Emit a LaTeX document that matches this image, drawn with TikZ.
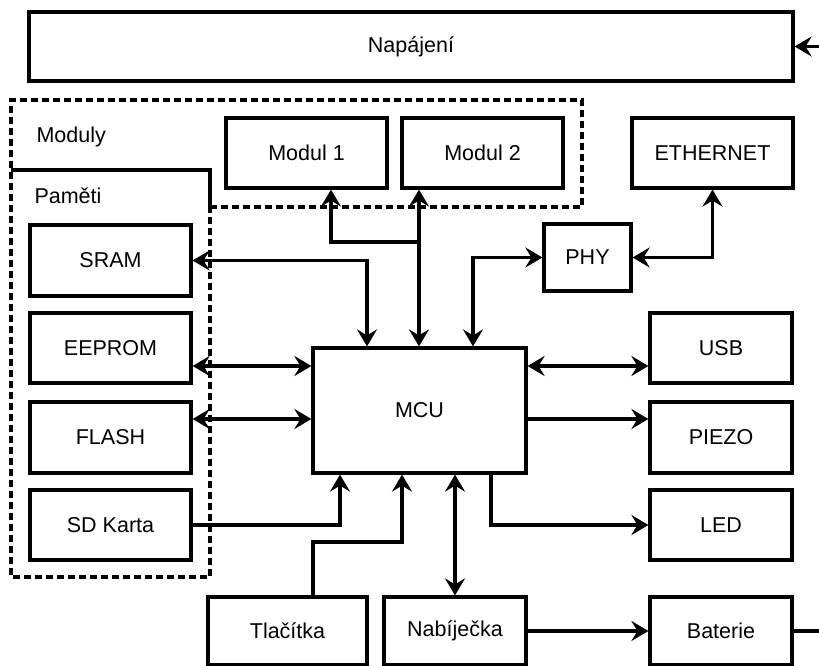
\documentclass[tikz,border=0pt]{standalone}
\usepackage{fontspec}
\setmainfont{Liberation Sans}
\usetikzlibrary{arrows.meta}
\begin{document}
\begin{tikzpicture}[x=1pt,y=-1pt,
  font=\fontsize{21.5}{25}\selectfont,
  box/.style={draw, line width=3.2pt, rectangle, inner sep=0pt, fill=white},
  conn/.style={line width=3.2pt},
  tip/.style={conn, -{Stealth[length=17pt,width=20pt,inset=6pt]}},
  both/.style={conn, {Stealth[length=17pt,width=20pt,inset=6pt]}-{Stealth[length=17pt,width=20pt,inset=6pt]}},
  grp/.style={line width=3.2pt, dash pattern=on 7pt off 4pt}
]
\useasboundingbox (0,0) rectangle (819,666);
\fill[white] (0,0) rectangle (819,666);

% groups
\draw[grp] (210,207) -- (582,207) -- (582,100) -- (11,100) -- (11,577) -- (210,577) -- cycle;
\draw[line width=3.2pt] (11,170) -- (210,170) -- (210,207);
\node[anchor=west] (lmod) at (33,137) {Moduly};
\node[anchor=west] (lmem) at (31,196) {Paměti};

% boxes
\node[box, minimum width=764pt, minimum height=69pt] (nap) at (411,46.5) {Napájení};
\node[box, minimum width=161pt, minimum height=70pt] (m1) at (306.5,153) {Modul 1};
\node[box, minimum width=161pt, minimum height=70pt] (m2) at (482.5,153) {Modul 2};
\node[box, minimum width=161pt, minimum height=70pt] (eth) at (712.5,153) {ETHERNET};
\node[box, minimum width=87pt, minimum height=67pt] (phy) at (587.5,257.5) {PHY};
\node[box, minimum width=161pt, minimum height=71pt] (sram) at (110.5,260.5) {SRAM};
\node[box, minimum width=161pt, minimum height=70pt] (eeprom) at (110.5,348) {EEPROM};
\node[box, minimum width=161pt, minimum height=71pt] (flash) at (110.5,437.5) {FLASH};
\node[box, minimum width=161pt, minimum height=70pt] (sd) at (110.5,525) {SD Karta};
\node[box, minimum width=213pt, minimum height=125pt] (mcu) at (419.5,410.5) {MCU};
\node[box, minimum width=142pt, minimum height=70pt] (usb) at (721,348) {USB};
\node[box, minimum width=142pt, minimum height=71pt] (piezo) at (721,437.5) {PIEZO};
\node[box, minimum width=142pt, minimum height=70pt] (led) at (721,525) {LED};
\node[box, minimum width=159pt, minimum height=68pt] (tl) at (287.5,631) {Tlačítka};
\node[box, minimum width=142pt, minimum height=68pt] (nab) at (455,631) {Nabíječka};
\node[box, minimum width=142pt, minimum height=68pt] (bat) at (721,631) {Baterie};

% helper coordinates
\coordinate (xs) at (367,0);
\coordinate (x1) at (331,0);
\coordinate (x2) at (419,0);
\coordinate (xp) at (473,0);
\coordinate (xl) at (491,0);
\coordinate (xsd) at (340,0);
\coordinate (xt) at (313,0);
\coordinate (xtt) at (402,0);
\coordinate (r1) at (0,366);
\coordinate (r2) at (0,419);
\coordinate (j1) at (419,242);
\coordinate (jt) at (313,542);
\coordinate (e1) at (819,46.5);
\coordinate (e2) at (819,631);

% connectors
\draw[tip] (e1) -- (nap.east);
\draw[both] (sram.east) -| (xs |- mcu.north);
\draw[both] (x2 |- m2.south) -- (x2 |- mcu.north);
\draw[tip] (j1) -| (x1 |- m1.south);
\draw[both] (xp |- mcu.north) |- (phy.west);
\draw[both] (phy.east) -| (eth.south);
\draw[both] (eeprom.east |- r1) -- (mcu.west |- r1);
\draw[both] (flash.east |- r2) -- (mcu.west |- r2);
\draw[both] (mcu.east |- r1) -- (usb.west |- r1);
\draw[tip] (mcu.east |- r2) -- (piezo.west |- r2);
\draw[tip] (xl |- mcu.south) |- (led.west);
\draw[tip] (sd.east) -| (xsd |- mcu.south);
\draw[tip] (xt |- tl.north) -- (jt) -| (xtt |- mcu.south);
\draw[both] (nab.north) -- (nab.north |- mcu.south);
\draw[tip] (nab.east) -- (bat.west);
\draw[conn] (bat.east) -- (e2);
\end{tikzpicture}
\end{document}
